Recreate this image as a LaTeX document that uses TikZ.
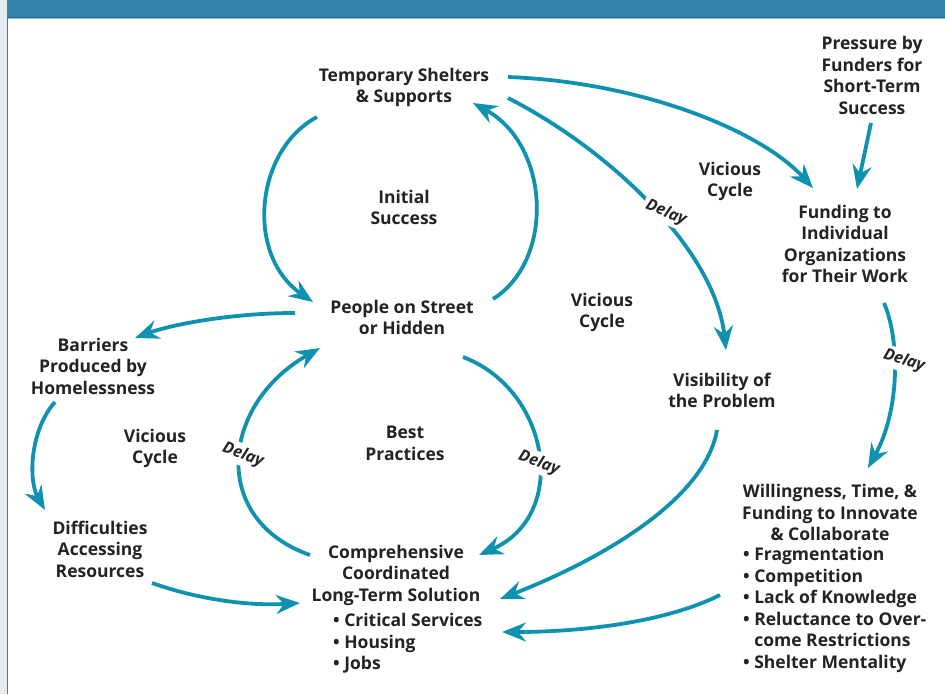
\documentclass[tikz,border=0pt]{standalone}
\usepackage{fontspec}
\setmainfont{Open Sans}
\usetikzlibrary{arrows.meta,calc}
\definecolor{teal}{RGB}{14,146,176}
\definecolor{txt}{RGB}{35,35,35}
\definecolor{barcol}{RGB}{53,132,173}
\definecolor{barline}{RGB}{28,98,130}
\definecolor{barlight}{RGB}{150,200,218}
\definecolor{strip}{RGB}{228,237,241}
\definecolor{stripline}{RGB}{58,127,159}
\newcommand\dfont{\fontsize{17.5}{21.5}\selectfont\bfseries}
\newcommand\delfont{\fontsize{16}{20}\selectfont\bfseries\itshape}
\tikzset{
  lbl/.style={align=center, font=\dfont, text=txt, inner sep=0pt},
  lst/.style={align=left, font=\dfont, text=txt, inner sep=0pt, anchor=west},
  dly/.style={font=\delfont, text=txt, fill=white, inner sep=3pt},
  arr/.style={draw=teal, line width=3.8pt, -{Stealth[length=24pt,width=19pt,inset=8pt]}},
}
\begin{document}
\begin{tikzpicture}[x=1pt,y=-1pt]
\useasboundingbox (0,0) rectangle (945,694);
\fill[white] (0,0) rectangle (945,694);
\fill[strip] (0,0) rectangle (7,694);
\fill[barcol] (7,0) rectangle (945,17);
\draw[barline, line width=1.3pt] (7,17.3) -- (945,17.3);
\draw[barlight, line width=1pt] (8,18.8) -- (945,18.8);
\draw[stripline, line width=1.2pt] (7.6,17) -- (7.6,694);

% nodes
\node[lbl] (ts) at (404,87.5) {Temporary Shelters\\\& Supports};
\node[lbl] (pf) at (872,75.5) {Pressure by\\Funders for\\Short-Term\\Success};
\node[lbl] (is) at (404,207.5) {Initial\\Success};
\node[lbl] (vc1) at (730,181.5) {Vicious\\Cycle};
\node[lbl] (fund) at (845,244) {Funding to\\Individual\\Organizations\\for Their Work};
\node[lbl] (ppl) at (402,317.5) {People on Street\\or Hidden};
\node[lbl] (vc2) at (602,312.5) {Vicious\\Cycle};
\node[lbl] (bar) at (93,366) {Barriers\\Produced by\\Homelessness};
\node[lbl] (vis) at (722,390.5) {Visibility of\\the Problem};
\node[lbl] (vc3) at (155,448.5) {Vicious\\Cycle};
\node[lbl] (bp) at (405,443.5) {Best\\Practices};
\node[lbl] (willh) at (830,512.5) {Willingness, Time, \&\\Funding to Innovate\\\& Collaborate};
\node[lst] (willl) at (743,610) {\textbullet\ Fragmentation\\\textbullet\ Competition\\\textbullet\ Lack of Knowledge\\\textbullet\ Reluctance to Over-\\\phantom{\textbullet\ }come Restrictions\\\textbullet\ Shelter Mentality};
\node[lbl] (diff) at (100,549) {Difficulties\\Accessing\\Resources};
\node[lbl] (comph) at (396,575) {Comprehensive\\Coordinated\\Long-Term Solution};
\node[lst] (compl) at (333,643.5) {\textbullet\ Critical Services\\\textbullet\ Housing\\\textbullet\ Jobs};

% connectors
\draw[arr] ($(ts)+(104,-10.5)$) .. controls (640,82) and (760,130) .. ($(fund)+(-32,-56)$);
\draw[arr] ($(pf)+(-1,47.5)$) -- ($(fund)+(12,-55)$);
\draw[arr] ($(ts)+(104,10.5)$) .. controls (610,150) and (715,250) .. ($(vis)+(4,-40.5)$);
\draw[arr] ($(ts)+(-87,29.5)$) .. controls (255,150) and (245,255) .. ($(ppl)+(-89,-15.5)$);
\draw[arr] ($(ppl)+(91,-18.5)$) .. controls (555,260) and (550,145) .. ($(ts)+(69,15.5)$);
\draw[arr] ($(ppl)+(-107,-4.5)$) .. controls (230,313) and (170,325) .. ($(bar)+(42,-28)$);
\draw[arr] ($(bar)+(-38,36)$) .. controls (30,430) and (28,480) .. ($(diff)+(-55,-39)$);
\draw[arr] ($(diff)+(52,34)$) .. controls (200,600) and (250,606) .. ($(comph)+(-96,28)$);
\draw[arr] ($(comph)+(-86,-20)$) .. controls (210,520) and (220,405) .. ($(ppl)+(-82,30.5)$);
\draw[arr] ($(ppl)+(61,39.5)$) .. controls (550,390) and (570,515) .. ($(comph)+(83,-20)$);
\draw[arr] ($(vis)+(-5,39.5)$) .. controls (705,500) and (600,560) .. ($(comph)+(104,24)$);
\draw[arr] ($(willl.west)+(-23,-15)$) .. controls (660,625) and (570,632) .. ($(compl.west)+(169,-11.5)$);
\draw[arr] ($(fund)+(39,59)$) .. controls (900,340) and (900,410) .. ($(willh)+(38,-44.5)$);

% delay labels
\node[dly, rotate=-22] (d1) at (666,213) {Delay};
\node[dly, rotate=-18] (d2) at (904,361) {Delay};
\node[dly, rotate=-20] (d3) at (243,455) {Delay};
\node[dly, rotate=-20] (d4) at (539,463) {Delay};
\end{tikzpicture}
\end{document}
